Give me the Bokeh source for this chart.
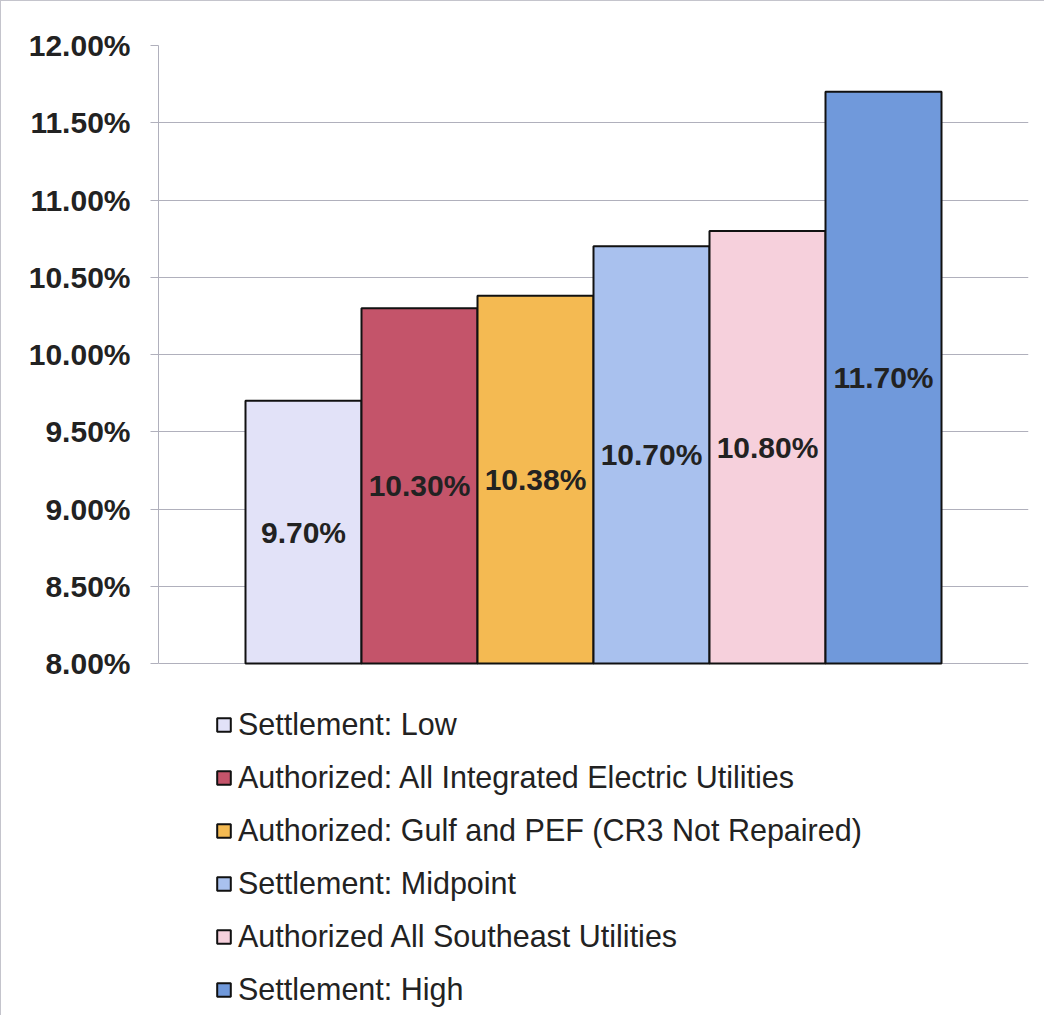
from bokeh.plotting import figure
from bokeh.models import (Range1d, ColumnDataSource, Legend, LegendItem, FixedTicker,
                          CustomJSTickFormatter)
from bokeh.core.properties import value
from bokeh.embed import file_html
from bokeh.resources import INLINE

categories = [
    "Settlement: Low",
    "Authorized: All Integrated Electric Utilities",
    "Authorized: Gulf and PEF (CR3 Not Repaired)",
    "Settlement: Midpoint",
    "Authorized All Southeast Utilities",
    "Settlement: High",
]
values = [9.70, 10.30, 10.38, 10.70, 10.80, 11.70]
colors = ["#E2E2F8", "#C4546A", "#F4BA52", "#A9C1EE", "#F6D0DC", "#7099DB"]
y_ticks = [8.0, 8.5, 9.0, 9.5, 10.0, 10.5, 11.0, 11.5, 12.0]
y_min, y_max = 8.0, 12.0

FONT = "Liberation Sans"

# layout (pixels)
W, H = 1044, 1015
TOP, LEFT, RIGHT = 44, 157, 17
AXIS_PX = 618  # pixel height of the 8%..12% span
frame_h = H - TOP
y_start = y_max - (y_max - y_min) * frame_h / AXIS_PX

p = figure(width=W, height=H, output_backend="svg", toolbar_location=None,
           x_range=Range1d(-1.25, 6.25), y_range=Range1d(y_start, y_max),
           min_border_left=LEFT, min_border_right=RIGHT, min_border_top=TOP,
           min_border_bottom=0)
p.outline_line_color = None
p.background_fill_color = "white"
p.border_fill_color = "white"
p.styles = {"border-top": "1px solid #c4c4cc", "border-left": "1px solid #c4c4cc"}

p.xaxis.visible = False
p.xgrid.visible = False
p.ygrid.grid_line_color = "#b0b0bc"
p.ygrid.grid_line_width = 1
p.ygrid.bounds = (y_min, y_max)

p.yaxis.ticker = FixedTicker(ticks=y_ticks)
p.yaxis.bounds = (y_min, y_max)
p.yaxis.formatter = CustomJSTickFormatter(code="return tick.toFixed(2) + '%';")
p.yaxis.axis_line_color = "#b0b0bc"
p.yaxis.major_tick_line_color = "#b0b0bc"
p.yaxis.major_tick_out = 8
p.yaxis.major_tick_in = 0
p.yaxis.minor_tick_line_color = None
p.yaxis.major_label_text_font = FONT
p.yaxis.major_label_text_font_style = "bold"
p.yaxis.major_label_text_font_size = "30px"
p.yaxis.major_label_text_color = "#222222"
p.yaxis.major_label_standoff = 20

items = []
for i, (cat, v, c) in enumerate(zip(categories, values, colors)):
    src = ColumnDataSource(dict(x=[i], top=[v], bottom=[y_min], mid=[(v + y_min) / 2],
                                lab=[f"{v:.2f}%"]))
    r = p.vbar(x="x", top="top", bottom="bottom", width=1.0, source=src,
               fill_color=c, line_color="#111111", line_width=2)
    items.append(LegendItem(label=cat, renderers=[r]))
    p.text(x="x", y="mid", text="lab", source=src, text_align="center",
           text_baseline="middle", text_font=value(FONT), text_font_style="bold",
           text_font_size="30px", text_color="#222222")

legend = Legend(items=items, location=(57, 9))
legend.border_line_color = None
legend.background_fill_alpha = 0
legend.padding = 0
legend.margin = 0
legend.glyph_width = 17
legend.glyph_height = 17
legend.label_height = 36
legend.label_standoff = 6
legend.spacing = 17
legend.label_text_font = FONT
legend.label_text_font_size = "30.5px"
legend.label_text_color = "#222222"
p.add_layout(legend, "center")

open("out.html", "w").write(file_html(p, INLINE))
